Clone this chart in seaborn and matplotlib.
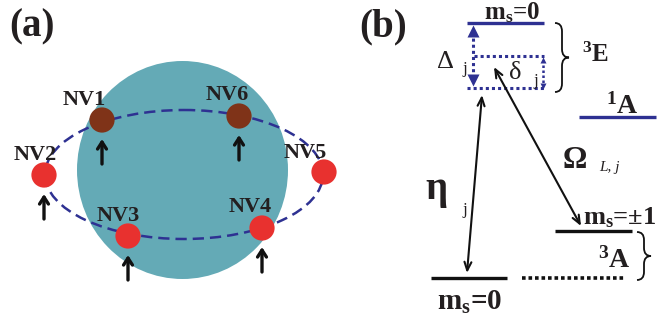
import numpy as np
import pandas as pd
import seaborn as sns
import matplotlib
matplotlib.use("Agg")
import matplotlib.pyplot as plt
from matplotlib.patches import Ellipse, PathPatch
from matplotlib.path import Path

sns.set_style("white")
plt.rcParams['font.family'] = ['Liberation Serif', 'DejaVu Serif']
plt.rcParams['mathtext.fontset'] = 'custom'
plt.rcParams['mathtext.rm'] = 'Liberation Serif'
plt.rcParams['mathtext.bf'] = 'Liberation Serif:bold'
plt.rcParams['mathtext.it'] = 'Liberation Serif:italic'

# ---- data (panel a): NV centres on the ring ----
nv_names = ["NV1", "NV2", "NV3", "NV4", "NV5", "NV6"]
nv_x = [102, 44, 128, 262, 324, 239]
nv_y = [120, 175, 236, 228, 172, 116]
nv_group = ["inside", "outside", "outside", "outside", "outside", "inside"]
nv_label_dx = [-18, -9, -10, -12, -19, -12]
nv_label_dy = [-20, -20, -20, -21, -19, -21]
nv_has_spin = [True, True, True, True, False, True]

# ---- data (panel b): levels ----
level_names = ["E_ms0", "1A", "A_pm1", "A_ms0"]

BLUE = "#2e3192"
RED = "#e8312f"
BROWN = "#7f3318"
TEAL = "#64aab6"

fig = plt.figure(figsize=(6.63, 3.24), dpi=100)
ax = fig.add_axes([0, 0, 1, 1])

# ---------- panel (a) ----------
ax.add_patch(Ellipse((182.5, 170), 211, 218, facecolor=TEAL, edgecolor="none", zorder=1))
ax.add_patch(Ellipse((184, 174.5), 278, 129, facecolor="none", edgecolor=BLUE,
                     lw=1.8, linestyle=(0, (4.5, 2.4)), zorder=2))

df = pd.DataFrame({"name": nv_names, "x": nv_x, "y": nv_y, "group": nv_group})
sns.scatterplot(data=df, x="x", y="y", hue="group",
                palette={"inside": BROWN, "outside": RED},
                s=330, edgecolor="none", legend=False, ax=ax, zorder=3)
ax.set_xlim(0, 663)
ax.set_ylim(324, 0)
ax.axis("off")

ax.text(9, 27, "(a)", fontsize=28, fontweight="bold", va="center", ha="left", color="#231f20")

for n, x, y, dx, dy, sp in zip(nv_names, nv_x, nv_y, nv_label_dx, nv_label_dy, nv_has_spin):
    ax.text(x + dx, y + dy, n, fontsize=16, fontweight="bold", ha="center",
            va="center", color="#231f20", zorder=4)
    if sp:
        ax.annotate("", xy=(x, y + 19), xytext=(x, y + 44),
                    arrowprops=dict(arrowstyle="->,head_length=0.5,head_width=0.32",
                                    lw=2.4, color="#111111", shrinkA=0, shrinkB=0),
                    zorder=4)

# ---------- panel (b) ----------
ax.text(359, 27, "(b)", fontsize=28, fontweight="bold", va="center", ha="left", color="#231f20")

# levels
ax.plot([467, 544], [23, 23], color=BLUE, lw=2.4, solid_capstyle="butt")
ax.plot([579, 656], [117, 117], color=BLUE, lw=2.4, solid_capstyle="butt")
ax.plot([555, 632], [231, 231], color="#111111", lw=2.4, solid_capstyle="butt")
ax.plot([431, 507], [278, 278], color="#111111", lw=2.4, solid_capstyle="butt")
ax.plot([522, 625], [278, 278], color="#111111", lw=2.6, linestyle=(0, (1, 0.8)))

# dotted sublevels
ax.plot([474, 544], [56, 56], color=BLUE, lw=2.2, linestyle=(0, (1, 1)))
ax.plot([467, 544], [88, 88], color=BLUE, lw=2.2, linestyle=(0, (1, 1)))
ax.plot([473, 473], [32, 80], color=BLUE, lw=2.2, linestyle=(0, (1, 1)))
ax.plot([473], [31], marker="^", ms=8, color=BLUE, mec="none")
ax.plot([473], [80], marker="v", ms=8, color=BLUE, mec="none")
ax.plot([543, 543], [60, 85], color=BLUE, lw=1.8, linestyle=(0, (1, 1)))
ax.plot([543], [60], marker="^", ms=5, color=BLUE, mec="none")
ax.plot([543], [86], marker="v", ms=5, color=BLUE, mec="none")

# transitions
ax.annotate("", xy=(482, 95), xytext=(467, 273),
            arrowprops=dict(arrowstyle="<->,head_length=0.6,head_width=0.25",
                            lw=1.5, color="#111111", shrinkA=0, shrinkB=0))
ax.annotate("", xy=(494, 67), xytext=(581, 226),
            arrowprops=dict(arrowstyle="<->,head_length=0.6,head_width=0.25",
                            lw=1.5, color="#111111", shrinkA=0, shrinkB=0))

# braces
def brace(x0, y0, y1, w):
    xm = x0 + w / 2
    ymid = (y0 + y1) / 2
    r = min(w * 0.6, (y1 - y0) / 6)
    verts = [(x0, y0), (xm, y0), (xm, y0 + r),
             (xm, ymid - r), (xm, ymid), (x0 + w, ymid),
             (xm, ymid), (xm, ymid + r),
             (xm, y1 - r), (xm, y1), (x0, y1)]
    codes = [Path.MOVETO, Path.CURVE3, Path.CURVE3,
             Path.LINETO, Path.CURVE3, Path.CURVE3,
             Path.CURVE3, Path.CURVE3,
             Path.LINETO, Path.CURVE3, Path.CURVE3]
    ax.add_patch(PathPatch(Path(verts, codes), facecolor="none",
                           edgecolor="#111111", lw=1.3))

brace(555, 23, 92, 14)
brace(637, 232, 280, 14)

# labels
TXT = "#231f20"
ax.text(512, 13, r"m$_{\mathbf{s}}$=0", fontsize=18, fontweight="bold", ha="center", va="center", color=TXT)
ax.text(470, 302, r"m$_{\mathbf{s}}$=0", fontsize=21, fontweight="bold", ha="center", va="center", color=TXT)
ax.text(583, 218, r"m$_{\mathbf{s}}$=±1", fontsize=19, fontweight="bold", ha="left", va="center", color=TXT)
ax.text(582, 55, r"$^{\mathbf{3}}$E", fontsize=18, fontweight="bold", ha="left", va="center", color=TXT)
ax.text(606, 106, r"$^{\mathbf{1}}$A", fontsize=20, fontweight="bold", ha="left", va="center", color=TXT)
ax.text(598, 260, r"$^{\mathbf{3}}$A", fontsize=20, fontweight="bold", ha="left", va="center", color=TXT)

ax.text(437, 62, "Δ", fontsize=19, ha="left", va="center", color=TXT)
ax.text(462, 69, "j", fontsize=12, ha="left", va="center", color=TXT)
ax.text(509, 73, "δ", fontsize=19, ha="left", va="center", color=TXT)
ax.text(533, 81, "j", fontsize=12, ha="left", va="center", color=TXT)
ax.text(425, 190, "η", fontsize=28, fontweight="bold", ha="left", va="center", color=TXT)
ax.text(462, 210, "j", fontsize=12, ha="left", va="center", color=TXT)
ax.text(563, 161, "Ω", fontsize=22, fontweight="bold", ha="left", va="center", color=TXT)
ax.text(599, 167, "L, j", fontsize=11, style="italic", ha="left", va="center", color=TXT)

fig.savefig("out.png", dpi=100)
